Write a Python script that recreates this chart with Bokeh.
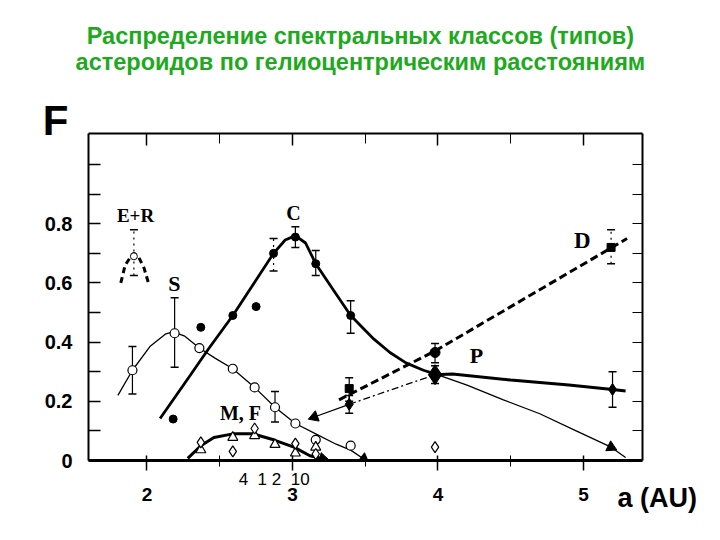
from bokeh.plotting import figure
from bokeh.models import (Range1d, LinearAxis, FixedTicker, Label, Whisker,
                          ColumnDataSource, TeeHead)
from bokeh.embed import file_html
from bokeh.resources import INLINE

# ---------------- data ----------------
C_curve_a = [2.09, 2.30, 2.42, 2.59, 2.75, 2.87, 2.95, 3.02, 3.09, 3.16, 3.28, 3.40, 3.56, 3.67, 3.78, 3.90, 3.98]
C_curve_F = [0.142, 0.29, 0.375, 0.49, 0.61, 0.70, 0.745, 0.76, 0.735, 0.665, 0.577, 0.49, 0.41, 0.365, 0.33, 0.305, 0.293]
C_tail_a = [3.98, 4.20, 4.45, 4.70, 4.95, 5.19, 5.29]
C_tail_F = [0.293, 0.255, 0.205, 0.158, 0.10, 0.045, 0.01]

S_curve_a = [1.80, 1.90, 2.02, 2.13, 2.18, 2.26, 2.36, 2.47, 2.59, 2.74, 2.88, 3.02, 3.16, 3.30, 3.40, 3.49]
S_curve_F = [0.22, 0.305, 0.385, 0.428, 0.435, 0.42, 0.38, 0.345, 0.31, 0.247, 0.18, 0.125, 0.09, 0.055, 0.035, 0.005]

MF_curve_a = [2.28, 2.37, 2.46, 2.59, 2.73, 2.87, 3.01, 3.12, 3.21]
MF_curve_F = [0.007, 0.05, 0.078, 0.09, 0.09, 0.07, 0.045, 0.016, 0.006]

ER_curve_a = [1.82, 1.85, 1.89, 1.91, 1.94, 1.98, 2.01]
ER_curve_F = [0.60, 0.66, 0.69, 0.70, 0.69, 0.65, 0.60]

D_line_a = [3.32, 3.98, 5.30]
D_line_F = [0.205, 0.37, 0.75]

P_thin_a = [3.15, 3.39]
P_thin_F = [0.147, 0.19]
P_dashdot_a = [3.39, 3.98]
P_dashdot_F = [0.19, 0.29]
P_thick_a = [3.98, 4.10, 4.50, 4.90, 5.20, 5.29]
P_thick_F = [0.29, 0.292, 0.272, 0.255, 0.24, 0.235]

C_pts_a = [2.18, 2.37, 2.59, 2.75, 2.87, 3.02, 3.16, 3.40]
C_pts_F = [0.14, 0.45, 0.49, 0.52, 0.70, 0.755, 0.665, 0.49]
S_pts_a = [1.90, 2.19, 2.36, 2.59, 2.74, 2.88, 3.02, 3.16, 3.40]
S_pts_F = [0.305, 0.43, 0.38, 0.31, 0.247, 0.18, 0.125, 0.07, 0.05]
MF_tri_a = [2.37, 2.59, 2.74, 2.88, 3.02, 3.16]
MF_tri_F = [0.036, 0.078, 0.084, 0.054, 0.025, 0.045]
MF_dia_a = [2.37, 2.59, 2.74, 3.02, 3.16, 3.98]
MF_dia_F = [0.061, 0.031, 0.108, 0.057, 0.022, 0.045]
D_sq_a = [3.39, 5.19]
D_sq_F = [0.243, 0.72]
D_circ_a = [3.98]
D_circ_F = [0.365]
P_dia_a = [3.39, 5.20]
P_dia_F = [0.19, 0.24]
P_big_a = [3.98]
P_big_F = [0.29]
ER_pt_a = [1.91]
ER_pt_F = [0.69]
arrow_a = [3.15, 5.19, 3.49, 3.21]
arrow_F = [0.147, 0.045, 0.005, 0.006]
arrow_ang = [110, -116, -127, -103]

S_err_a = [1.90, 2.19, 2.88]
S_err_lo = [0.225, 0.315, 0.13]
S_err_hi = [0.385, 0.55, 0.233]
C_err_a = [3.02, 3.16, 3.40]
C_err_lo = [0.72, 0.625, 0.43]
C_err_hi = [0.79, 0.71, 0.54]
D_err_a = [3.39, 3.98]
D_err_lo = [0.20, 0.33]
D_err_hi = [0.28, 0.395]
P_err_a = [3.39, 3.98, 5.20]
P_err_lo = [0.16, 0.26, 0.18]
P_err_hi = [0.22, 0.32, 0.30]
dot_err_a = [1.91, 2.87, 5.19]
dot_err_lo = [0.625, 0.64, 0.665]
dot_err_hi = [0.78, 0.75, 0.78]

x_major = [2, 3, 4, 5]
x_minor = [2.5, 3.5, 4.5]
y_major = [0, 0.2, 0.4, 0.6, 0.8]
y_minor = [0.1, 0.3, 0.5, 0.7, 0.9, 1.0]

title1 = "Распределение спектральных классов (типов)"
title2 = "астероидов по гелиоцентрическим расстояниям"
gap_text = "4\u00a0\u00a01 2\u00a0\u00a010"

# ---------------- figure ----------------
p = figure(width=704, height=524, output_backend="svg", toolbar_location=None,
           x_range=Range1d(1.598, 5.406), y_range=Range1d(0, 1.105),
           min_border_left=88, min_border_right=62, min_border_top=133,
           min_border_bottom=64, x_axis_type=None, y_axis_type=None)
p.title.visible = False
p.grid.visible = False
p.outline_line_color = None
p.background_fill_color = "white"
p.border_fill_color = "white"

AX_FONT = "Liberation Sans"

bottom = LinearAxis(ticker=FixedTicker(ticks=x_major, minor_ticks=x_minor))
bottom.axis_line_width = 3
bottom.major_tick_in = 5
bottom.major_tick_out = 10
bottom.minor_tick_in = 5
bottom.minor_tick_out = 6
bottom.major_tick_line_width = 1.5
bottom.major_label_standoff = 17
bottom.major_label_text_font = AX_FONT
bottom.major_label_text_font_style = "bold"
bottom.major_label_text_font_size = "19px"
bottom.major_label_text_color = "black"
p.add_layout(bottom, "below")

top = LinearAxis(ticker=FixedTicker(ticks=x_major, minor_ticks=x_minor))
top.axis_line_width = 2
top.major_tick_in = 12
top.major_tick_out = 0
top.minor_tick_in = 10
top.minor_tick_out = 0
top.major_tick_line_width = 1.5
top.major_label_text_color = None
top.major_label_text_font_size = "1px"
p.add_layout(top, "above")

left = LinearAxis(ticker=FixedTicker(ticks=y_major, minor_ticks=y_minor))
left.axis_line_width = 2
left.major_tick_in = 12
left.major_tick_out = 0
left.minor_tick_in = 12
left.minor_tick_out = 0
left.major_tick_line_width = 1.5
left.minor_tick_line_width = 1.5
left.major_label_standoff = 16
left.major_label_overrides = {0: "0"}
left.major_label_text_font = AX_FONT
left.major_label_text_font_style = "bold"
left.major_label_text_font_size = "20px"
left.major_label_text_color = "black"
p.add_layout(left, "left")

right = LinearAxis(ticker=FixedTicker(ticks=y_major, minor_ticks=y_minor))
right.axis_line_width = 2
right.major_tick_in = 10
right.major_tick_out = 0
right.minor_tick_in = 10
right.minor_tick_out = 0
right.major_tick_line_width = 1.2
right.major_label_text_color = None
right.major_label_text_font_size = "1px"
p.add_layout(right, "right")

# ---------------- curves ----------------
p.line(C_curve_a, C_curve_F, line_color="black", line_width=2.8)
p.line(C_tail_a, C_tail_F, line_color="black", line_width=1.3)
p.line(S_curve_a, S_curve_F, line_color="black", line_width=1.3)
p.line(MF_curve_a, MF_curve_F, line_color="black", line_width=3)
p.line(ER_curve_a, ER_curve_F, line_color="black", line_width=3, line_dash="6 4")
p.line(D_line_a, D_line_F, line_color="black", line_width=3, line_dash="8 4")
p.line(P_thin_a, P_thin_F, line_color="black", line_width=1.3)
p.line(P_dashdot_a, P_dashdot_F, line_color="black", line_width=1.3, line_dash="7 3 2 3")
p.line(P_thick_a, P_thick_F, line_color="black", line_width=3)

# ---------------- error bars ----------------
def whisk(a, lo, hi, dash="solid", width=1.2):
    src = ColumnDataSource(dict(a=a, lo=lo, hi=hi))
    w = Whisker(source=src, base="a", lower="lo", upper="hi", dimension="height",
                line_width=width, line_dash=dash,
                upper_head=TeeHead(size=8, line_width=1.5),
                lower_head=TeeHead(size=8, line_width=1.5))
    p.add_layout(w)

whisk(S_err_a, S_err_lo, S_err_hi)
whisk(C_err_a, C_err_lo, C_err_hi)
whisk(D_err_a, D_err_lo, D_err_hi)
whisk(P_err_a, P_err_lo, P_err_hi)
whisk(dot_err_a, dot_err_lo, dot_err_hi, dash="dotted")

# ---------------- markers ----------------
p.scatter(C_pts_a, C_pts_F, marker="circle", size=8, fill_color="black", line_color="black")
p.scatter(S_pts_a, S_pts_F, marker="circle", size=9, fill_color="white", line_color="black", line_width=1.2)
p.scatter(MF_tri_a, MF_tri_F, marker="triangle", size=10, fill_color="white", line_color="black", line_width=1.2)
p.scatter(MF_dia_a, MF_dia_F, marker="diamond", size=11, fill_color="white", line_color="black", line_width=1.2)
p.scatter(D_sq_a, D_sq_F, marker="square", size=8, fill_color="black", line_color="black")
p.scatter(D_circ_a, D_circ_F, marker="circle", size=10, fill_color="black", line_color="black")
p.scatter(P_dia_a, P_dia_F, marker="diamond", size=12, fill_color="black", line_color="black")
p.scatter(P_big_a, P_big_F, marker="diamond", size=20, fill_color="black", line_color="black")
p.scatter(ER_pt_a, ER_pt_F, marker="circle", size=7, fill_color="white", line_color="black")
p.scatter(arrow_a, arrow_F, marker="triangle", size=11, angle=arrow_ang, angle_units="deg",
          fill_color="black", line_color="black")

# ---------------- in-plot class labels ----------------
SERIF = "Liberation Serif"
for txt, x, y, fs in [("E+R", 1.921, 0.828, "19px"), ("C", 3.007, 0.838, "20px"),
                      ("S", 2.189, 0.598, "22px"), ("D", 4.993, 0.743, "23px"),
                      ("P", 4.265, 0.355, "22px"), ("M, F", 2.643, 0.162, "20px")]:
    p.add_layout(Label(x=x, y=y, text=txt, text_align="center", text_baseline="middle",
                       text_font=SERIF, text_font_style="bold", text_font_size=fs,
                       text_color="black"))

# ---------------- texts outside the frame: labels placed in side panels (not clipped) ----------------
def olabel(txt, x, y, font, size, side, bold=True, color="black"):
    p.add_layout(Label(x=x, y=y, text=txt, text_align="center", text_baseline="middle",
                       text_font=font, text_font_style="bold" if bold else "normal",
                       text_font_size=size, text_color=color), side)

GREEN = "#1ea91e"
olabel(title1, 3.467, 1.436, AX_FONT, "23.5px", "above", color=GREEN)
olabel(title2, 3.467, 1.345, AX_FONT, "23.5px", "above", color=GREEN)
olabel("F", 1.371, 1.149, AX_FONT, "42px", "left")
olabel("a (AU)", 5.508, -0.126, AX_FONT, "27px", "above")
olabel(gap_text, 2.874, -0.063, AX_FONT, "17px", "above", bold=False)

open("out.html", "w").write(file_html(p, INLINE))
